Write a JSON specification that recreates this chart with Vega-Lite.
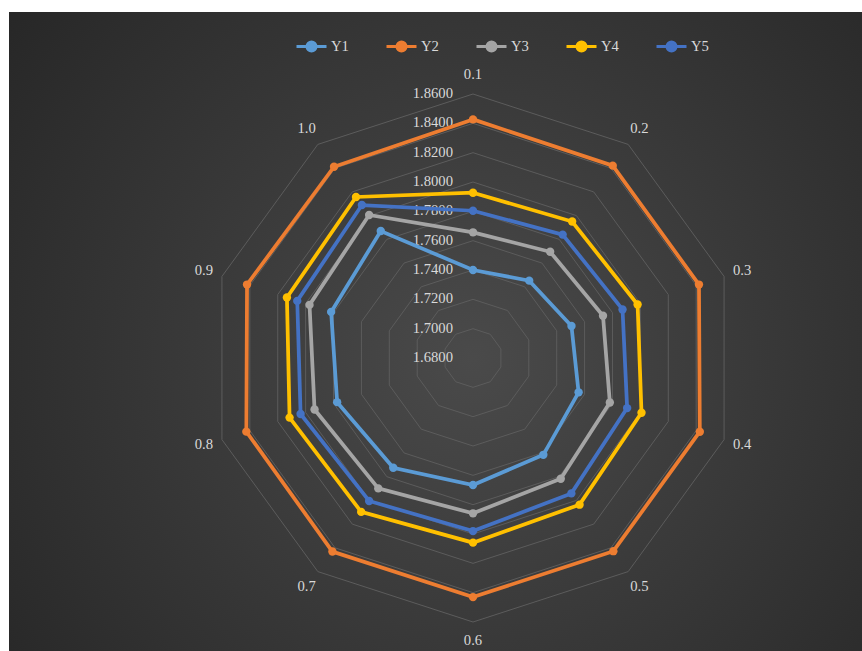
{
  "$schema": "https://vega.github.io/schema/vega-lite/v6.json",
  "width": 853,
  "height": 639,
  "padding": {"left": 9, "top": 12, "right": 0, "bottom": 0},
  "background": "#ffffff",
  "config": {
    "view": {
      "stroke": null,
      "fill": {
        "gradient": "radial",
        "x1": 0.544, "y1": 0.531, "r1": 0,
        "x2": 0.544, "y2": 0.531, "r2": 0.72,
        "stops": [
          {"offset": 0, "color": "#4a4a4a"},
          {"offset": 1, "color": "#252525"}
        ]
      }
    },
    "text": {"font": "Liberation Serif", "fontSize": 14.67, "color": "#d9d9d9"}
  },
  "datasets": {
    "series": [
      {"series": "Y1", "cat": "0.1", "value": 1.7400},
      {"series": "Y1", "cat": "0.2", "value": 1.7452},
      {"series": "Y1", "cat": "0.3", "value": 1.7506},
      {"series": "Y1", "cat": "0.4", "value": 1.7557},
      {"series": "Y1", "cat": "0.5", "value": 1.7616},
      {"series": "Y1", "cat": "0.6", "value": 1.7666},
      {"series": "Y1", "cat": "0.7", "value": 1.7725},
      {"series": "Y1", "cat": "0.8", "value": 1.7774},
      {"series": "Y1", "cat": "0.9", "value": 1.7817},
      {"series": "Y1", "cat": "1.0", "value": 1.7870},
      {"series": "Y2", "cat": "0.1", "value": 1.8427},
      {"series": "Y2", "cat": "0.2", "value": 1.8421},
      {"series": "Y2", "cat": "0.3", "value": 1.8420},
      {"series": "Y2", "cat": "0.4", "value": 1.8426},
      {"series": "Y2", "cat": "0.5", "value": 1.8428},
      {"series": "Y2", "cat": "0.6", "value": 1.8430},
      {"series": "Y2", "cat": "0.7", "value": 1.8431},
      {"series": "Y2", "cat": "0.8", "value": 1.8425},
      {"series": "Y2", "cat": "0.9", "value": 1.8420},
      {"series": "Y2", "cat": "1.0", "value": 1.8412},
      {"series": "Y3", "cat": "0.1", "value": 1.7657},
      {"series": "Y3", "cat": "0.2", "value": 1.7695},
      {"series": "Y3", "cat": "0.3", "value": 1.7732},
      {"series": "Y3", "cat": "0.4", "value": 1.7781},
      {"series": "Y3", "cat": "0.5", "value": 1.7818},
      {"series": "Y3", "cat": "0.6", "value": 1.7859},
      {"series": "Y3", "cat": "0.7", "value": 1.7899},
      {"series": "Y3", "cat": "0.8", "value": 1.7936},
      {"series": "Y3", "cat": "0.9", "value": 1.7972},
      {"series": "Y3", "cat": "1.0", "value": 1.8005},
      {"series": "Y4", "cat": "0.1", "value": 1.7927},
      {"series": "Y4", "cat": "0.2", "value": 1.7950},
      {"series": "Y4", "cat": "0.3", "value": 1.7980},
      {"series": "Y4", "cat": "0.4", "value": 1.8008},
      {"series": "Y4", "cat": "0.5", "value": 1.8036},
      {"series": "Y4", "cat": "0.6", "value": 1.8059},
      {"series": "Y4", "cat": "0.7", "value": 1.8097},
      {"series": "Y4", "cat": "0.8", "value": 1.8115},
      {"series": "Y4", "cat": "0.9", "value": 1.8134},
      {"series": "Y4", "cat": "1.0", "value": 1.8157},
      {"series": "Y5", "cat": "0.1", "value": 1.7804},
      {"series": "Y5", "cat": "0.2", "value": 1.7840},
      {"series": "Y5", "cat": "0.3", "value": 1.7872},
      {"series": "Y5", "cat": "0.4", "value": 1.7905},
      {"series": "Y5", "cat": "0.5", "value": 1.7941},
      {"series": "Y5", "cat": "0.6", "value": 1.7980},
      {"series": "Y5", "cat": "0.7", "value": 1.8005},
      {"series": "Y5", "cat": "0.8", "value": 1.8036},
      {"series": "Y5", "cat": "0.9", "value": 1.8060},
      {"series": "Y5", "cat": "1.0", "value": 1.8089}
    ],
    "rings": [
      {"ring": 1.68}, {"ring": 1.70}, {"ring": 1.72}, {"ring": 1.74}, {"ring": 1.76},
      {"ring": 1.78}, {"ring": 1.80}, {"ring": 1.82}, {"ring": 1.84}, {"ring": 1.86}
    ],
    "cats": [
      {"cat": "0.1"}, {"cat": "0.2"}, {"cat": "0.3"}, {"cat": "0.4"}, {"cat": "0.5"},
      {"cat": "0.6"}, {"cat": "0.7"}, {"cat": "0.8"}, {"cat": "0.9"}, {"cat": "1.0"}
    ]
  },
  "encoding": {
    "x": {"field": "px", "type": "quantitative", "axis": null,
          "scale": {"domain": [-1.7576, 1.4735], "nice": false, "zero": false}},
    "y": {"field": "py", "type": "quantitative", "axis": null,
          "scale": {"domain": [-1.1098, 1.3106], "nice": false, "zero": false}}
  },
  "layer": [
    {
      "data": {"name": "rings"},
      "transform": [
        {"calculate": "['0.1','0.2','0.3','0.4','0.5','0.6','0.7','0.8','0.9','1.0']", "as": "catlist"},
        {"flatten": ["catlist"], "as": ["cat"]},
        {"calculate": "round(toNumber(datum.cat) * 10) - 1", "as": "k"},
        {"calculate": "(datum.ring - 1.68) / 0.18", "as": "r"},
        {"calculate": "datum.r * sin(datum.k * PI / 5)", "as": "px"},
        {"calculate": "datum.r * cos(datum.k * PI / 5)", "as": "py"}
      ],
      "mark": {"type": "line", "interpolate": "linear-closed", "stroke": "#5c5c5c", "strokeWidth": 1},
      "encoding": {
        "detail": {"field": "ring", "type": "nominal"},
        "order": {"field": "k", "type": "quantitative"}
      }
    },
    {
      "data": {"name": "rings"},
      "transform": [
        {"calculate": "(datum.ring - 1.68) / 0.18", "as": "py"},
        {"calculate": "0", "as": "px"}
      ],
      "mark": {"type": "text", "align": "right", "baseline": "middle", "dx": -20},
      "encoding": {
        "text": {"field": "ring", "type": "quantitative", "format": ".4f"}
      }
    },
    {
      "data": {"name": "cats"},
      "transform": [
        {"calculate": "round(toNumber(datum.cat) * 10) - 1", "as": "k"},
        {"calculate": "1.072 * sin(datum.k * PI / 5)", "as": "px"},
        {"calculate": "1.072 * cos(datum.k * PI / 5)", "as": "py"}
      ],
      "mark": {"type": "text", "align": "center", "baseline": "middle"},
      "encoding": {
        "text": {"field": "cat", "type": "nominal"}
      }
    },
    {
      "data": {"name": "series"},
      "transform": [
        {"calculate": "round(toNumber(datum.cat) * 10) - 1", "as": "k"},
        {"calculate": "(datum.value - 1.68) / 0.18", "as": "r"},
        {"calculate": "datum.r * sin(datum.k * PI / 5)", "as": "px"},
        {"calculate": "datum.r * cos(datum.k * PI / 5)", "as": "py"}
      ],
      "encoding": {
        "color": {
          "field": "series", "type": "nominal",
          "scale": {"domain": ["Y1", "Y2", "Y3", "Y4", "Y5"],
                    "range": ["#5B9BD5", "#ED7D31", "#A5A5A5", "#FFC000", "#4472C4"]},
          "legend": {
            "title": null,
            "orient": "none",
            "legendX": 286,
            "legendY": 18,
            "direction": "horizontal",
            "symbolType": "M-1,0H1M0.3,0A0.3,0.3,0,1,1,-0.3,0A0.3,0.3,0,1,1,0.3,0Z",
            "symbolSize": 900,
            "symbolStrokeWidth": 3,
            "symbolOpacity": 1,
            "labelFont": "Liberation Serif",
            "labelFontSize": 14.67,
            "labelColor": "#d9d9d9",
            "labelOffset": 3,
            "columnPadding": 31,
            "encode": {
              "symbols": {
                "update": {
                  "fill": {"scale": "color", "field": "value"},
                  "stroke": {"scale": "color", "field": "value"},
                  "opacity": {"value": 1}
                }
              }
            }
          }
        },
        "order": {"field": "k", "type": "quantitative"}
      },
      "layer": [
        {"mark": {"type": "line", "interpolate": "linear-closed", "strokeWidth": 3.75}},
        {"mark": {"type": "point", "filled": true, "shape": "circle", "size": 70, "opacity": 1}}
      ]
    }
  ]
}
